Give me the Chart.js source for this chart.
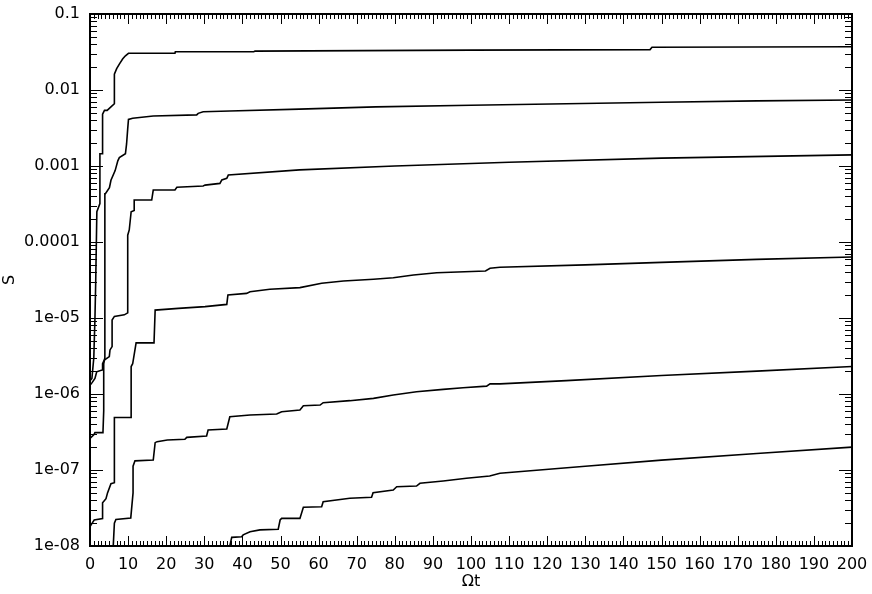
<!DOCTYPE html>
<html><head><meta charset="utf-8">
<script src="https://cdn.jsdelivr.net/npm/chart.js@4/dist/chart.umd.min.js"></script>
<style>html,body{margin:0;padding:0;background:#fff}</style>
</head><body>
<canvas id="c" width="872" height="594"></canvas>
<script>
// Curve 1 (top)
const t1 = [0,0.5,1.0,1.3,1.5,1.8,2.6,2.6,3.3,3.3,3.8,4.5,5.5,6.4,6.4,7.0,7.7,8.6,9.3,10.1,22.3,22.4,43,43.3,100,147,147.5,200];
const s1 = [1.5e-6,1.6e-6,3e-6,1e-5,3e-5,2.5e-4,3.2e-4,1.45e-3,1.45e-3,4.8e-3,5.4e-3,5.4e-3,6.0e-3,6.6e-3,0.0162,0.0191,0.0219,0.0257,0.0282,0.0304,0.0304,0.0319,0.0319,0.0325,0.0335,0.034,0.0365,0.037];
// Curve 2
const t2 = [0,1.0,1.3,3.4,3.6,3.6,3.9,3.9,4.0,5.1,5.5,6.6,7.3,7.7,9.3,9.6,9.9,10.1,11.2,16.6,28,28.4,29.7,36.7,55,75,100,125,150,175,200];
const s2 = [2.6e-7,2.9e-7,3.1e-7,3.1e-7,6e-7,2.5e-6,3e-6,4.3e-4,4.3e-4,5.2e-4,6.5e-4,8.7e-4,1.17e-3,1.29e-3,1.45e-3,1.95e-3,3.1e-3,4.1e-3,4.25e-3,4.55e-3,4.7e-3,4.93e-3,5.18e-3,5.3e-3,5.6e-3,6.0e-3,6.3e-3,6.6e-3,6.9e-3,7.2e-3,7.4e-3];
// Curve 3
const t3 = [0,0.5,1.3,1.76,3.15,3.3,3.75,5.07,5.25,5.8,5.8,6.4,9.0,9.9,9.9,10.3,10.8,11.6,11.6,16.2,16.6,22.3,22.8,29.7,30.2,34.1,34.6,35.9,36.3,55,80,110,150,200];
const s3 = [1.3e-6,1.4e-6,1.6e-6,1.96e-6,2.07e-6,2.5e-6,2.8e-6,3.1e-6,3.8e-6,4.2e-6,9.4e-6,1.05e-5,1.1e-5,1.17e-5,1.23e-4,1.44e-4,2.5e-4,2.6e-4,3.57e-4,3.57e-4,4.83e-4,4.83e-4,5.25e-4,5.45e-4,5.6e-4,5.9e-4,6.55e-4,6.9e-4,7.6e-4,8.9e-4,1.0e-3,1.12e-3,1.27e-3,1.4e-3];
// Curve 4
const t4 = [0,0.7,1.1,3.3,3.3,4.2,4.6,5.5,6.4,6.4,10.8,10.8,11.2,12.1,16.8,17.1,23.2,30.2,35.9,36.2,41.1,42,47.2,55.1,60.8,66.5,74.4,79.6,84.9,91,103.8,105,107.6,130,150,175,200];
const s4 = [1.8e-8,2.05e-8,2.2e-8,2.3e-8,3.7e-8,4.2e-8,5e-8,6.6e-8,6.8e-8,4.9e-7,4.9e-7,2.3e-6,2.5e-6,4.7e-6,4.7e-6,1.27e-5,1.34e-5,1.41e-5,1.51e-5,2.01e-5,2.11e-5,2.22e-5,2.39e-5,2.51e-5,2.86e-5,3.07e-5,3.24e-5,3.39e-5,3.68e-5,3.94e-5,4.15e-5,4.51e-5,4.65e-5,5.0e-5,5.4e-5,5.9e-5,6.35e-5];
// Curve 5
const t5 = [6.1,6.4,6.8,10.7,11.3,11.3,11.8,16.6,17.1,17.6,20.3,24.9,25.4,30.6,31.0,35.9,36.7,42,49,50.3,55.1,56,60.4,61.2,68.2,74.4,79.6,85.7,92.7,97.9,104.1,105,107.6,125,150,175,200];
const s5 = [1e-8,2.0e-8,2.24e-8,2.34e-8,5e-8,1.12e-7,1.32e-7,1.35e-7,2.29e-7,2.36e-7,2.48e-7,2.54e-7,2.69e-7,2.8e-7,3.36e-7,3.46e-7,5.02e-7,5.3e-7,5.46e-7,5.85e-7,6.15e-7,7.0e-7,7.16e-7,7.69e-7,8.17e-7,8.77e-7,9.7e-7,1.07e-6,1.15e-6,1.21e-6,1.27e-6,1.36e-6,1.36e-6,1.5e-6,1.75e-6,2.0e-6,2.3e-6];
// Curve 6 (bottom)
const t6 = [36.7,37.2,39.8,40.2,42,44.6,49.4,49.9,50.3,55.1,56,60.8,61.2,68.2,73.9,74.3,79.6,80.5,85.7,86.6,92.7,98.8,104.9,107.6,130,150,175,200];
const s6 = [1e-8,1.3e-8,1.32e-8,1.4e-8,1.54e-8,1.63e-8,1.66e-8,2.2e-8,2.31e-8,2.31e-8,3.23e-8,3.29e-8,3.83e-8,4.25e-8,4.38e-8,5.02e-8,5.46e-8,6.03e-8,6.15e-8,6.68e-8,7.16e-8,7.78e-8,8.34e-8,9.06e-8,1.12e-7,1.35e-7,1.65e-7,2.0e-7];

const xTickValues = [0,10,20,30,40,50,60,70,80,90,100,110,120,130,140,150,160,170,180,190,200];
const xTickLabels = ['0','10','20','30','40','50','60','70','80','90','100','110','120','130','140','150','160','170','180','190','200'];
const yTickValues = [1e-8,1e-7,1e-6,1e-5,1e-4,1e-3,1e-2,1e-1];
const yTickLabels = ['1e-08','1e-07','1e-06','1e-05','0.0001','0.001','0.01','0.1'];

const series = [[t1,s1],[t2,s2],[t3,s3],[t4,s4],[t5,s5],[t6,s6]];
const datasets = series.map(([t,s]) => ({
  data: t.map((x,i) => ({x:x, y:s[i]})),
  borderColor:'#000', borderWidth:1.6, pointRadius:0, tension:0, fill:false
}));

const frameTicks = {
  id:'frameTicks',
  afterDatasetsDraw(chart){
    const {ctx, chartArea:a, scales:{x,y}} = chart;
    ctx.save();
    ctx.strokeStyle='#000';
    ctx.lineWidth=1;
    ctx.beginPath();
    for (let v=0; v<=200; v+=1){
      const px = Math.round(x.getPixelForValue(v))+0.5;
      const len = v%10===0 ? 10 : 5;
      ctx.moveTo(px,a.bottom); ctx.lineTo(px,a.bottom-len);
      ctx.moveTo(px,a.top); ctx.lineTo(px,a.top+len);
    }
    for (let e=-8; e<=-1; e++){
      for (let k=1; k<=9; k++){
        const v = k*Math.pow(10,e);
        if (v > 0.1*1.0001) break;
        const py = Math.round(y.getPixelForValue(v))+0.5;
        const len = k===1 ? 13 : 7;
        ctx.moveTo(a.left,py); ctx.lineTo(a.left+len,py);
        ctx.moveTo(a.right,py); ctx.lineTo(a.right-len,py);
      }
    }
    ctx.stroke();
    ctx.lineWidth=2;
    ctx.strokeRect(a.left,a.top,a.right-a.left,a.bottom-a.top);
    ctx.restore();
  }
};

const font = {family:'"DejaVu Sans", sans-serif', size:16};
new Chart(document.getElementById('c'), {
  type:'line',
  data:{datasets},
  options:{
    responsive:false, animation:false, devicePixelRatio:1,
    layout:{padding:{top:14,right:20,left:0,bottom:0}},
    plugins:{legend:{display:false}, tooltip:{enabled:false}},
    scales:{
      x:{
        type:'linear', min:0, max:200,
        afterBuildTicks: s => { s.ticks = xTickValues.map(v=>({value:v})); },
        afterFit: s => { s.height = 48; s.paddingLeft = 0; s.paddingRight = 0; },
        ticks:{color:'#000', font, padding:9, maxRotation:0, autoSkip:false,
          callback:(v,i)=> xTickLabels[xTickValues.indexOf(v)]},
        grid:{display:false, drawTicks:false},
        border:{display:false},
        title:{display:true, text:'Ωt', color:'#000', font, padding:{top:0,bottom:3}}
      },
      y:{
        type:'logarithmic', min:1e-8, max:0.1,
        afterBuildTicks: s => { s.ticks = yTickValues.map(v=>({value:v})); },
        afterFit: s => { s.width = 90; s.paddingTop = 0; s.paddingBottom = 0; },
        ticks:{color:'#000', font, padding:10, autoSkip:false,
          callback:(v)=> yTickLabels[yTickValues.findIndex(t=>Math.abs(t-v)/t<1e-6)]},
        grid:{display:false, drawTicks:false},
        border:{display:false},
        title:{display:true, text:'S', color:'#000', font, padding:{top:0,bottom:0}}
      }
    }
  },
  plugins:[frameTicks]
});
</script>
</body></html>
